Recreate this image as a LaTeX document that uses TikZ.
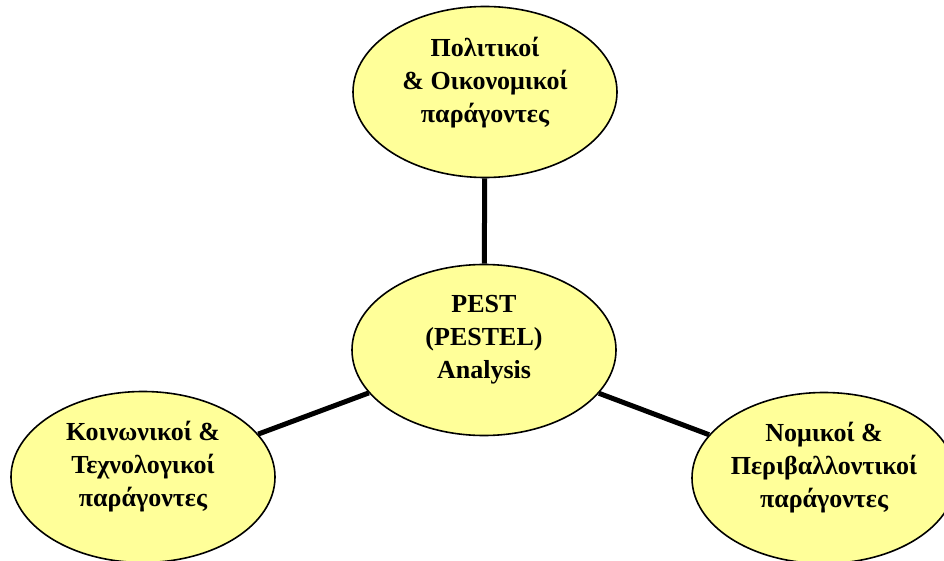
\documentclass[tikz,border=0pt]{standalone}
\usepackage{fontspec}
\setmainfont{Liberation Serif}
\usepackage{tikz}
\usetikzlibrary{shapes.geometric, positioning}
\definecolor{paleyellow}{HTML}{FFFF99}
\tikzstyle{factor}=[ellipse, draw=black, fill=paleyellow, line width=1.6pt, minimum width=264pt, minimum height=171pt, inner sep=0pt]
\tikzstyle{caption}=[align=center, font=\bfseries\fontsize{26}{33}\selectfont, inner sep=0pt]
\tikzstyle{spoke}=[line width=5pt]

\begin{document}
\begin{tikzpicture}[x=1pt, y=-1pt]
      \useasboundingbox (0,0) rectangle (944,561);

      \node[factor] (pest) at (484,350) {};
      \node[factor] (pe)   at (485,92)  {};
      \node[factor] (st)   at (143,477) {};
      \node[factor] (le)   at (824,478) {};

      \draw[spoke] (pest) -- (pe);
      \draw[spoke] (pest) -- (st);
      \draw[spoke] (pest) -- (le);

      \node[caption] (pestT) at ([yshift=10pt]pest.center) {PEST\\(PESTEL)\\Analysis};
      \node[caption] (peT)   at ([yshift=9pt]pe.center)    {Πολιτικοί\\\& Οικονομικοί\\παράγοντες};
      \node[caption] (stT)   at ([yshift=10pt]st.center)   {Κοινωνικοί \&\\Τεχνολογικοί\\παράγοντες};
      \node[caption] (leT)   at ([yshift=10pt]le.center)   {Νομικοί \&\\Περιβαλλοντικοί\\παράγοντες};
\end{tikzpicture}
\end{document}
